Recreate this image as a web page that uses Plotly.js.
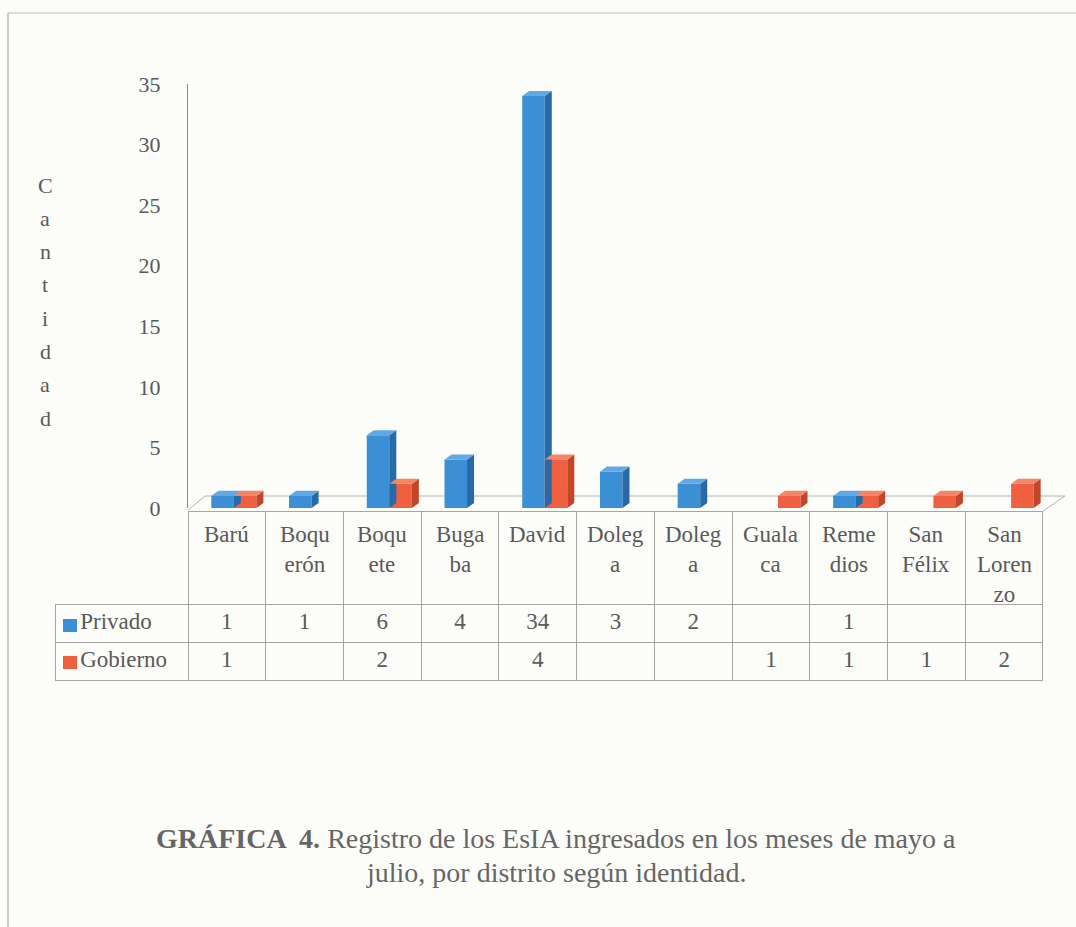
<!DOCTYPE html>
<html>
<head>
<meta charset="utf-8">
<script src="https://cdn.plot.ly/plotly-3.0.1.min.js"></script>
<style>
  html, body { margin: 0; padding: 0; background: #fcfcf9; }
  #chart { width: 1076px; height: 927px; }
</style>
</head>
<body>
<div id="chart"></div>
<script>
// ---- data ----
const categories = ['Barú','Boquerón','Boquete','Bugaba','David','Dolega','Dolega','Gualaca','Remedios','San Félix','San Lorenzo'];
const headerLabels = ['Barú','Boqu<br>erón','Boqu<br>ete','Buga<br>ba','David','Doleg<br>a','Doleg<br>a','Guala<br>ca','Reme<br>dios','San<br>Félix','San<br>Loren<br>zo'];
const privado  = [1, 1, 6, 4, 34, 3, 2, null, 1, null, null];
const gobierno = [1, null, 2, null, 4, null, null, 1, 1, 1, 2];
const seriesNames = ['Privado', 'Gobierno'];
const yTicks = [0, 5, 10, 15, 20, 25, 30, 35];
const yTitleLetters = ['C','a','n','t','i','d','a','d'];

// ---- style ----
const BG = '#fcfcf9';
const TXT = '#5a5a5a';
const FONT = 'Liberation Serif';
const blue = {front: '#3b8fd4', side: '#2869a8', top: '#62a8e2'};
const red  = {front: '#ef6040', side: '#c4462a', top: '#f58566'};
const GRID = '#a4a4a0';

// page geometry (pixels)
const W = 1076, H = 927;
const L = 55, R = 33, T = 84, B = 245;
const pw = W - L - R, ph = H - T - B;
const px = x => (x - L) / pw;        // pixel -> paper x
const py = y => (H - B - y) / ph;    // pixel -> paper y
const plotLeft = 188, plotBottom = 508, tableTop = 511;

const idx = categories.map((c, i) => i);
const BW = 0.29, OFF_P = -0.2, OFF_G = 0.09;
const DX = 0.09, DY = 0.42;   // 3D depth in axis units

function faces(vals, off) {
  const sx = [], sy = [], tx = [], ty = [];
  vals.forEach((v, i) => {
    if (v === null) return;
    const x0 = i + off, x1 = x0 + BW;
    sx.push(x1, x1 + DX, x1 + DX, x1, x1, null);
    sy.push(0, DY, v + DY, v, 0, null);
    tx.push(x0, x0 + DX, x1 + DX, x1, x0, null);
    ty.push(v, v + DY, v + DY, v, v, null);
  });
  return {sx, sy, tx, ty};
}

function barTraces(vals, off, col, name) {
  const f = faces(vals, off);
  return [
    {type: 'bar', x: idx, y: vals, offset: off, width: BW, name: name,
     marker: {color: col.front, line: {width: 0}}, showlegend: false, hoverinfo: 'skip'},
    {type: 'scatter', mode: 'lines', x: f.sx, y: f.sy, fill: 'toself', fillcolor: col.side,
     line: {width: 0, color: col.side}, showlegend: false, hoverinfo: 'skip'},
    {type: 'scatter', mode: 'lines', x: f.tx, y: f.ty, fill: 'toself', fillcolor: col.top,
     line: {width: 0, color: col.top}, showlegend: false, hoverinfo: 'skip'}
  ];
}

// ---- table (grid + values) ----
const fmt = v => (v === null ? '' : String(v));
const NB = '\u00a0\u00a0\u00a0';
const headerVals = [['']].concat(idx.map(() => ['']));
const cellVals = [[NB + seriesNames[0], NB + seriesNames[1]]]
  .concat(idx.map(i => [fmt(privado[i]), fmt(gobierno[i])]));
const colW = [plotLeft - L].concat(idx.map(() => (W - R - plotLeft) / categories.length));
const lineCols = ['rgba(0,0,0,0)'].concat(idx.map(() => GRID));

const table = {
  type: 'table',
  domain: {x: [0, 1], y: [0, py(tableTop)]},
  columnwidth: colW,
  header: {
    values: headerVals,
    height: 93,
    align: 'center',
    line: {color: lineCols, width: 1},
    fill: {color: 'rgba(0,0,0,0)'},
    font: {family: FONT, size: 23, color: TXT}
  },
  cells: {
    values: cellVals,
    height: 38,
    align: ['left'].concat(idx.map(() => 'center')),
    line: {color: GRID, width: 1},
    fill: {color: 'rgba(0,0,0,0)'},
    font: {family: FONT, size: 23, color: TXT}
  }
};

const data = [].concat(
  barTraces(privado, OFF_P, blue, seriesNames[0]),
  barTraces(gobierno, OFF_G, red, seriesNames[1]),
  [table]
);

// ---- annotations ----
const annotations = yTitleLetters.map((ch, k) => ({
  xref: 'paper', yref: 'paper', x: px(45), y: py(185 + k * 33.3),
  text: ch, showarrow: false, xanchor: 'center', yanchor: 'middle',
  font: {family: FONT, size: 22, color: TXT}
}));
headerLabels.forEach((h, i) => annotations.push({
  xref: 'x', yref: 'paper', x: idx[i], y: py(520),
  text: h, showarrow: false, xanchor: 'center', yanchor: 'top', align: 'center',
  font: {family: FONT, size: 23, color: TXT}
}));
annotations.push({
  xref: 'paper', yref: 'paper', x: px(556), y: py(838),
  text: '<b>GRÁFICA  4.</b> Registro de los EsIA ingresados en los meses de mayo a',
  showarrow: false, xanchor: 'center', yanchor: 'middle',
  font: {family: FONT, size: 28, color: '#666666'}
});
annotations.push({
  xref: 'paper', yref: 'paper', x: px(556), y: py(872),
  text: 'julio, por distrito según identidad.',
  showarrow: false, xanchor: 'center', yanchor: 'middle',
  font: {family: FONT, size: 28, color: '#666666'}
});

// ---- frame shapes (floor, legend keys, page border) ----
const floorPath = 'M ' + px(188) + ' ' + py(510) +
  ' L ' + px(205) + ' ' + py(496) +
  ' L ' + px(1065) + ' ' + py(496) +
  ' L ' + px(1043) + ' ' + py(511);
const keyRect = (y0, col) => ({type: 'rect', xref: 'paper', yref: 'paper',
  x0: px(63), x1: px(77), y0: py(y0), y1: py(y0 + 13), fillcolor: col, line: {width: 0}});
const shapes = [
  {type: 'path', xref: 'paper', yref: 'paper', path: floorPath, layer: 'below',
   line: {color: '#b5b5b0', width: 1}},
  keyRect(619, blue.front),
  keyRect(656, red.front),
  {type: 'line', xref: 'paper', yref: 'paper', x0: px(8), x1: px(1076), y0: py(13), y1: py(13),
   line: {color: '#d2d2cc', width: 1.5}},
  {type: 'line', xref: 'paper', yref: 'paper', x0: px(8), x1: px(8), y0: py(13), y1: py(927),
   line: {color: '#bcbcb6', width: 1.5}}
];

const layout = {
  width: W, height: H,
  margin: {l: L, r: R, t: T, b: B, pad: 0},
  paper_bgcolor: BG, plot_bgcolor: 'rgba(0,0,0,0)',
  barmode: 'overlay',
  showlegend: false,
  xaxis: {
    domain: [px(plotLeft), 1], range: [-0.5, categories.length - 0.5],
    showticklabels: false, showgrid: false, zeroline: false, showline: false, fixedrange: true
  },
  yaxis: {
    domain: [py(plotBottom), 1], range: [0, 35],
    tickvals: yTicks, ticktext: yTicks.map(String),
    showgrid: false, zeroline: false, showline: true, linecolor: '#8a8a86', linewidth: 1.2,
    ticks: '', ticklabelstandoff: 22,
    tickfont: {family: FONT, size: 22, color: TXT}, fixedrange: true
  },
  annotations: annotations,
  shapes: shapes
};

Plotly.newPlot('chart', data, layout, {staticPlot: true, displayModeBar: false});
</script>
</body>
</html>
